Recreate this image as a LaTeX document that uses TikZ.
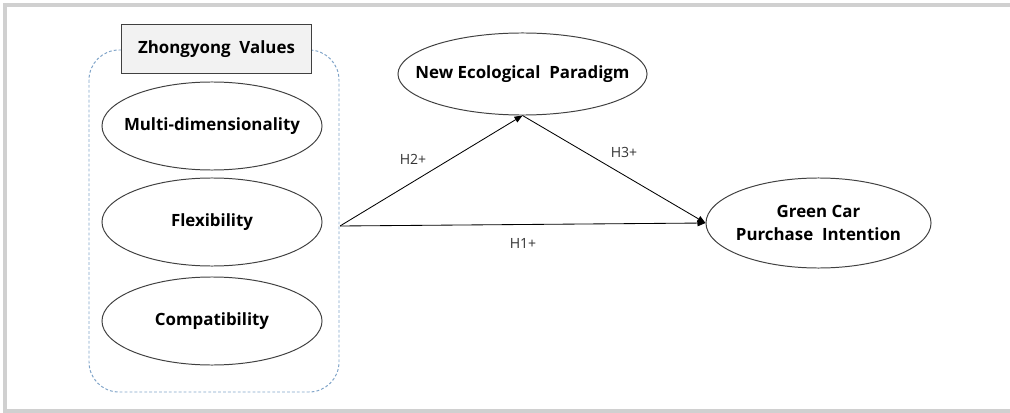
\documentclass[tikz,border=0pt]{standalone}
\usepackage{fontspec}
\setmainfont{Open Sans}
\usepackage{xcolor}
\usetikzlibrary{positioning, arrows.meta, shapes.geometric}
\definecolor{framegray}{HTML}{D0D0D0}
\definecolor{groupblue}{HTML}{7FA3C8}
\definecolor{boxfill}{HTML}{F2F2F2}
\definecolor{edgegray}{HTML}{404040}

\begin{document}
\begin{tikzpicture}[
  x=0.025cm, y=-0.025cm,
  construct/.style={draw=edgegray, ellipse, line width=0.7pt, inner xsep=-1.5cm, inner ysep=0pt, align=center, font=\fontsize{12}{16}\selectfont\bfseries},
  title/.style={draw=edgegray, fill=boxfill, line width=0.7pt, minimum width=4.75cm, minimum height=1.2cm, font=\fontsize{12}{14}\selectfont\bfseries},
  group/.style={draw=groupblue, dash pattern=on 2pt off 1.5pt, line width=0.7pt, rounded corners=0.75cm},
  path/.style={-{Triangle[length=2mm, width=1.6mm]}, line width=0.6pt, draw=black},
  hyp/.style={font=\fontsize{10}{12}\selectfont, text=black!80}
]
\useasboundingbox (0,0) rectangle (1010,413);
\draw[framegray, line width=2.8pt] (1010,5) -- (5,5) -- (5,411) -- (1010,411);

% Zhongyong values
\draw[group] (89,50) rectangle (339,392);
\node[title] (zv) at (216.5,49) {Zhongyong\ \ Values};
\node[construct, minimum width=5.5cm, minimum height=2.2cm] (multi) at (212,126) {Multi-dimensionality};
\node[construct, minimum width=5.5cm, minimum height=2.2cm] (flex) at (212,222) {Flexibility};
\node[construct, minimum width=5.5cm, minimum height=2.2cm] (compat) at (212,321) {Compatibility};
\coordinate (src) at (340,226);

% Mediator and outcome
\node[construct, minimum width=6.225cm, minimum height=2.05cm] (nep) at (522.5,74) {New Ecological\ \ Paradigm};
\node[construct, minimum width=5.625cm, minimum height=2.25cm] (gcp) at (818.5,223) {Green Car\\Purchase\ \ Intention};

% Paths
\draw[path] (src) -- (nep.south);
\draw[path] (nep.south) -- (gcp.west);
\draw[path] (src) -- (gcp.west);
\node[hyp] (h2) at (413,159) {H2+};
\node[hyp] (h3) at (624,152) {H3+};
\node[hyp] (h1) at (523,243) {H1+};
\end{tikzpicture}
\end{document}
